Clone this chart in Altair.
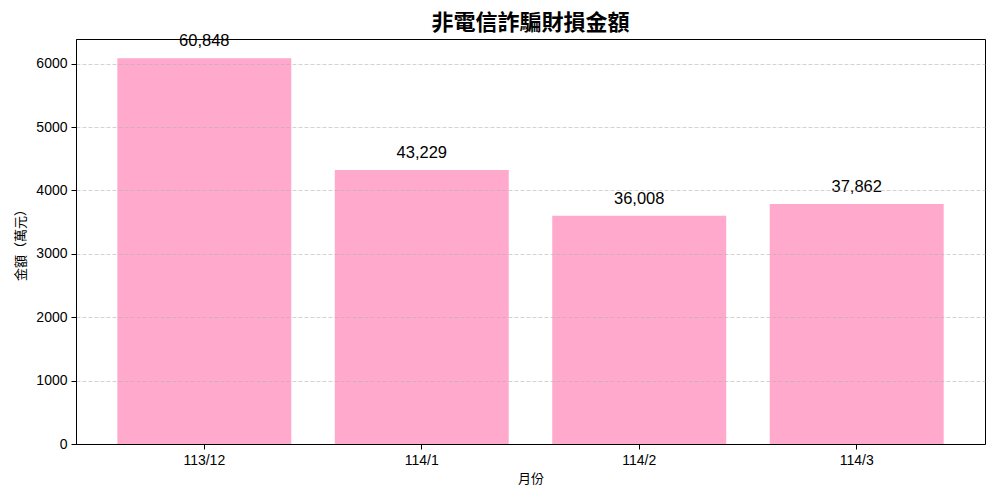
import altair as alt
import pandas as pd

months = ["113/12", "114/1", "114/2", "114/3"]
amounts = [60848, 43229, 36008, 37862]
y_ticks = [0, 1000, 2000, 3000, 4000, 5000, 6000]

df = pd.DataFrame({"month": months, "amount": amounts})

FONT = "'Liberation Sans', Arial, 'Noto Sans CJK TC', sans-serif"
CJK = "'Noto Sans CJK TC', 'Liberation Sans', sans-serif"

x = alt.X(
    "month:N",
    sort=months,
    title="月份",
    scale=alt.Scale(paddingInner=0.2, paddingOuter=0.19),
    axis=alt.Axis(
        labelAngle=0, labelFont=FONT, labelFontSize=14, labelColor="black",
        labelPadding=4, tickSize=5, tickColor="black", domainColor="black",
        titleFont=CJK, titleFontSize=13, titleFontWeight="normal",
        titleColor="black", titlePadding=5, grid=False, zindex=2,
    ),
)

y = alt.Y(
    "height:Q",
    title="金額（萬元）",
    scale=alt.Scale(domain=[0, 6390], nice=False),
    axis=alt.Axis(
        values=y_ticks, format="d", labelFont=FONT, labelFontSize=14,
        labelColor="black", labelPadding=4, tickSize=5, tickColor="black",
        domainColor="black", titleFont=CJK, titleFontSize=13,
        titleFontWeight="normal", titleColor="black", titlePadding=8,
        grid=True, gridColor="#b0b0b0", gridOpacity=0.7, gridDash=[4, 2],
        gridWidth=0.8, zindex=1,
    ),
)

base = alt.Chart(df).transform_calculate(height="datum.amount / 10")

bars = base.mark_bar(color="#FFAACC").encode(x=x, y=y)

labels = base.mark_text(
    baseline="alphabetic", dy=-12, fontSize=16.5, font=FONT, color="black"
).encode(
    x=alt.X("month:N", sort=months),
    y=alt.Y("height:Q"),
    text=alt.Text("amount:Q", format=","),
)

chart = (
    alt.layer(bars, labels)
    .properties(
        width=909,
        height=405,
        autosize=alt.AutoSizeParams(type="none"),
        padding={"left": 68, "top": 31, "right": 7, "bottom": 48},
        title=alt.TitleParams(
            "非電信詐騙財損金額", font=CJK, fontSize=22, fontWeight="bold",
            color="black", anchor="middle", frame="group", offset=-2,
        ),
    )
    .configure(background="white")
    .configure_view(stroke="black", strokeWidth=1)
)

chart.save("out.html", embed_options={"renderer": "svg", "actions": False})
